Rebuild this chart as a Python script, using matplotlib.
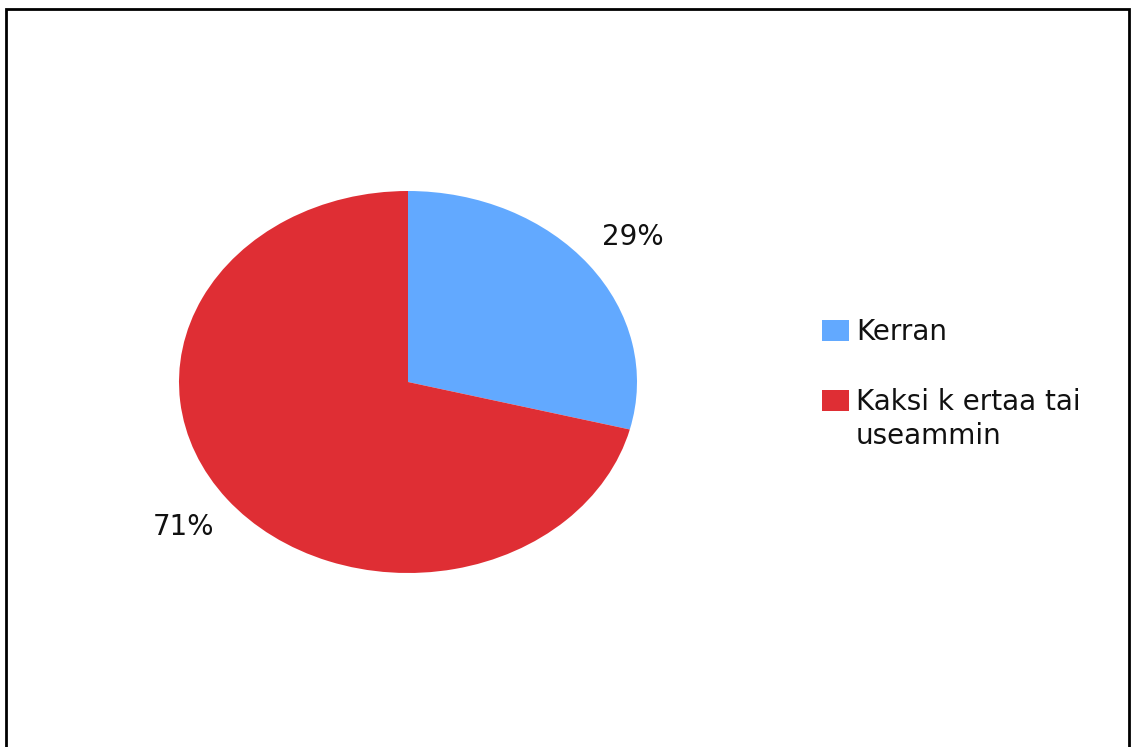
import matplotlib
matplotlib.use("Agg")
import matplotlib.pyplot as plt
from matplotlib.patches import Rectangle

labels = ["Kerran", "Kaksi k ertaa tai\nuseammin"]
values = [29, 71]
colors = ["#62A9FF", "#DF2E34"]

W, H = 1132, 747
fig = plt.figure(figsize=(W / 100, H / 100), dpi=100)

# pie is drawn as an ellipse: centre (408, 382) px, radii 229 x 191 px
cx, cy, rx, ry = 408, 382, 229, 191
ax = fig.add_axes([(cx - rx) / W, (H - cy - ry) / H, 2 * rx / W, 2 * ry / H])
ax.pie(values, colors=colors, startangle=90, counterclock=False,
       autopct="%d%%", pctdistance=1.24,
       textprops={"fontsize": 20, "color": "#111111"})
ax.set_aspect("auto")
ax.set_xlim(-1, 1)
ax.set_ylim(-1, 1)
ax.axis("off")

# legend, drawn by hand in pixel coords
px = lambda x, y: (x / W, 1 - y / H)
tops = [320, 390]
for lab, col, top in zip(labels, colors, tops):
    x0, y0 = px(822, top + 21)
    fig.add_artist(Rectangle((x0, y0), 27 / W, 21 / H, facecolor=col,
                             edgecolor="none", transform=fig.transFigure))
    tx, ty = px(856, top - 2)
    fig.text(tx, ty, lab, fontsize=20, color="#111111", va="top", ha="left",
             linespacing=1.25)

# outer frame (bottom edge falls outside the image)
x0, y0 = px(6, 760)
fig.add_artist(Rectangle((x0, y0), 1123 / W, 751 / H, facecolor="none",
                         edgecolor="black", lw=2, transform=fig.transFigure))

fig.savefig("out.png", dpi=100)
